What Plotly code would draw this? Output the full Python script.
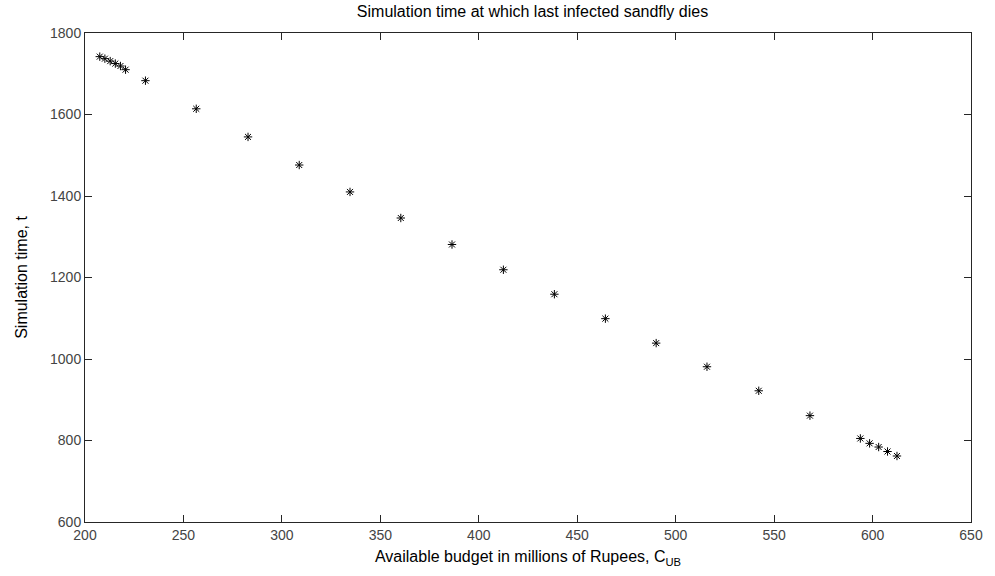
import plotly.graph_objects as go

budget = [207.5, 210.1, 212.8, 215.4, 218.0, 220.6,
          230.7, 256.5, 282.8, 308.8, 334.6, 360.4, 386.4, 412.5, 438.4,
          464.3, 490.1, 515.9, 542.2, 568.2, 593.8, 598.5, 603.1, 607.6, 612.4]
sim_time = [1742, 1737, 1731, 1725, 1719, 1710,
            1683, 1614, 1545, 1476, 1410, 1346, 1281, 1219, 1159,
            1099, 1039, 981, 922, 861, 805, 793, 784, 773, 762]

x_ticks = [200, 250, 300, 350, 400, 450, 500, 550, 600, 650]
y_ticks = [600, 800, 1000, 1200, 1400, 1600, 1800]

FONT = "Liberation Sans, Arial, Helvetica"

fig = go.Figure()
fig.add_trace(go.Scatter(
    x=budget, y=sim_time, mode="markers",
    marker=dict(symbol="asterisk-open", size=7, color="black",
                line=dict(color="#111111", width=1)),
    showlegend=False,
))

axis_common = dict(
    showgrid=False, zeroline=False, showline=True, linecolor="#262626",
    linewidth=1, mirror="ticks", ticks="inside", ticklen=7,
    tickcolor="#262626", tickfont=dict(family=FONT, size=14, color="#444444"),
)

fig.update_layout(
    width=995, height=576,
    margin=dict(l=85, r=15, t=33, b=54),
    paper_bgcolor="white", plot_bgcolor="white",
    title=dict(text="Simulation time at which last infected sandfly dies",
               x=(85 + 980) / 2 / 995, xanchor="center", y=1 - 11 / 576, yanchor="middle",
               font=dict(family=FONT, size=16, color="black")),
    xaxis=dict(range=[200, 650], tickvals=x_ticks, ticktext=[str(v) for v in x_ticks],
               title=dict(text="Available budget in millions of Rupees, C<sub>UB</sub>",
                          font=dict(family=FONT, size=16, color="black"),
                          standoff=9),
               **axis_common),
    yaxis=dict(range=[600, 1800], tickvals=y_ticks, ticktext=[str(v) for v in y_ticks],
               title=dict(text="Simulation time, t",
                          font=dict(family=FONT, size=16, color="black"),
                          standoff=18),
               **axis_common),
)

fig.write_html("out.html")
